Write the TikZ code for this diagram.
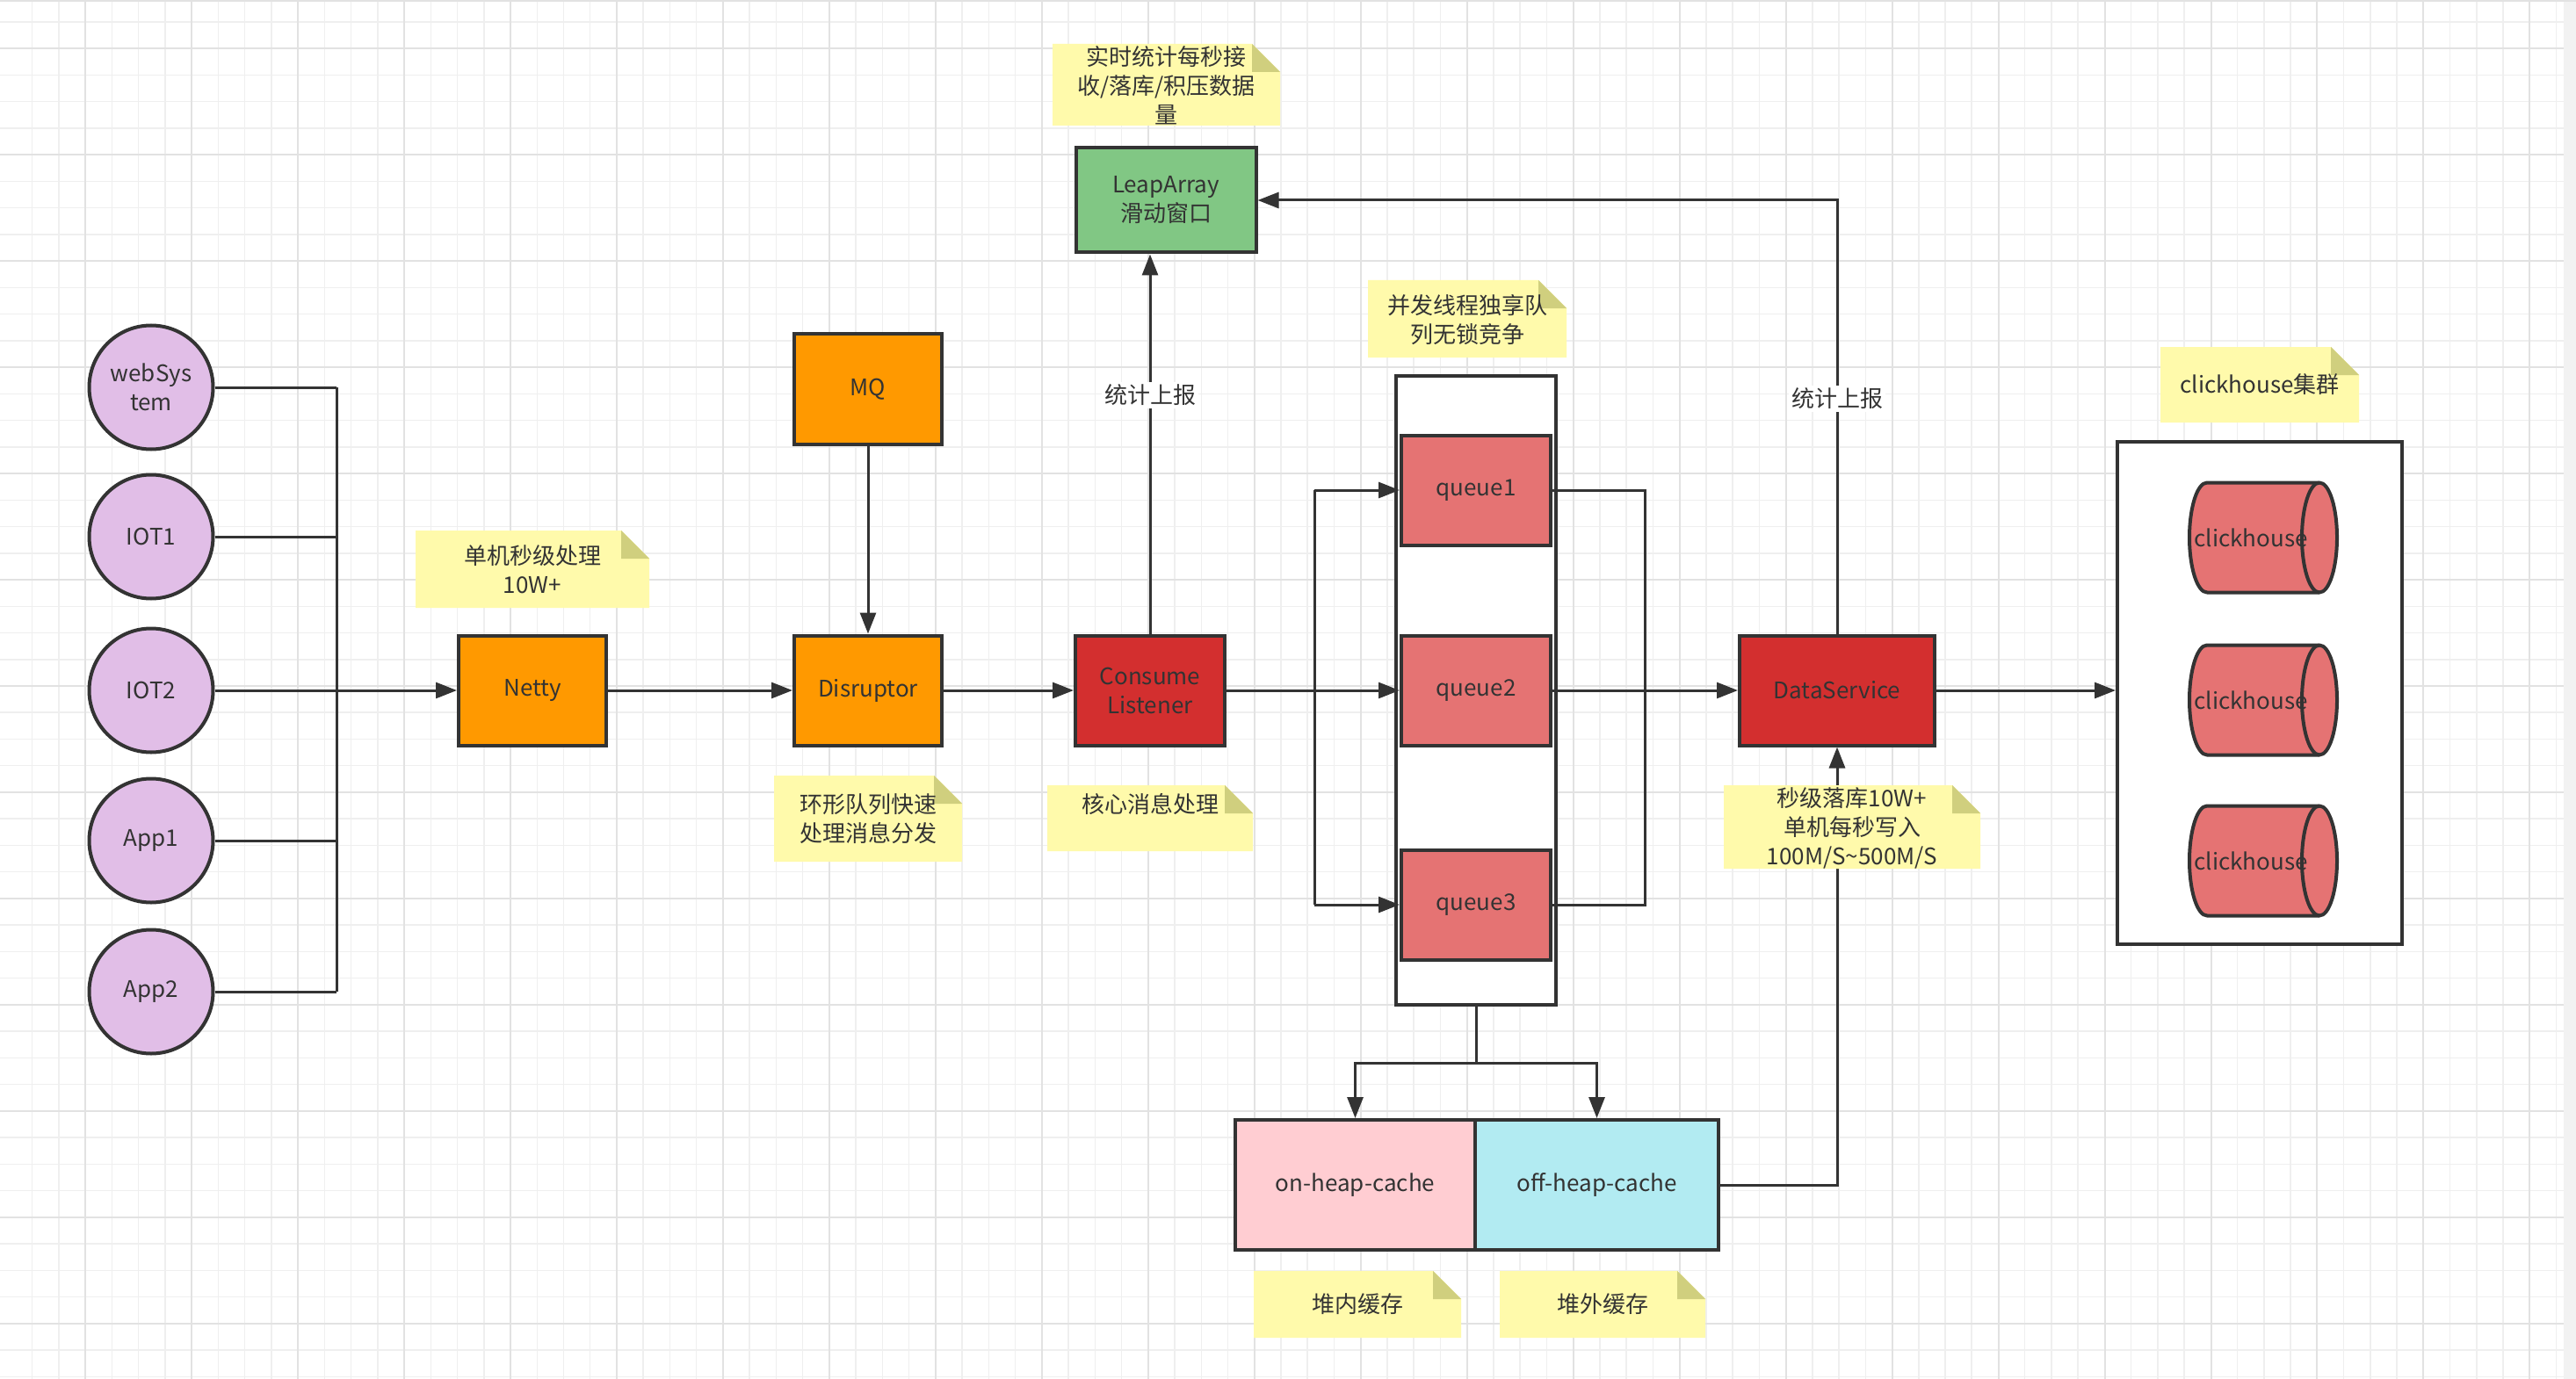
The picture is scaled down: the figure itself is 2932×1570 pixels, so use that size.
\documentclass[tikz,border=0pt]{standalone}
\usepackage{fontspec}
\setmainfont{Noto Sans CJK SC}
\usetikzlibrary{arrows.meta,shapes.geometric}
\definecolor{lc}{HTML}{333333}
\definecolor{txt}{HTML}{333333}
\definecolor{purp}{HTML}{E1BEE7}
\definecolor{orng}{HTML}{FF9900}
\definecolor{redbox}{HTML}{D32F2F}
\definecolor{qred}{HTML}{E57373}
\definecolor{grn}{HTML}{81C784}
\definecolor{pinkc}{HTML}{FFCDD2}
\definecolor{cyanc}{HTML}{B2EBF2}
\definecolor{notef}{HTML}{FFFAAB}
\definecolor{notefold}{HTML}{D0CF7E}
\definecolor{gminor}{HTML}{EFEFEF}
\definecolor{gmajor}{HTML}{E2E2E2}
\definecolor{sbar}{HTML}{F2F2F2}
\newcommand{\stickynote}[7]{%
  \fill[notef] (#2,#3) -- ({#4-32},#3) -- (#4,{#3+32}) -- (#4,#5) -- (#2,#5) -- cycle;
  \fill[notefold] ({#4-32},#3) -- ({#4-32},{#3+32}) -- (#4,{#3+32}) -- cycle;
  \node[notetext] (#1) at ({(#2+#4)/2},#6) {#7};}
% horizontal cylinder: name, cx, cy
\newcommand{\hcyl}[3]{%
  \draw[cylline] ({#2-64},{#3-62.5}) -- ({#2+64},{#3-62.5})
     arc[start angle=90, end angle=-90, x radius=20pt, y radius=62.5pt]
     -- ({#2-64},{#3+62.5})
     arc[start angle=270, end angle=90, x radius=20pt, y radius=62.5pt] -- cycle;
  \draw[cylline, fill=none] ({#2+64},{#3-62.5})
     arc[start angle=90, end angle=270, x radius=20pt, y radius=62.5pt];
  \node[base, inner sep=0pt] (#1) at ({#2-14},#3) {clickhouse};}
\begin{document}
\begin{tikzpicture}[x=1pt,y=-1pt,
  base/.style={font=\fontsize{26}{33}\selectfont, text=txt, align=center},
  notetext/.style={base, inner sep=0pt},
  conn/.style={draw=lc, line width=3pt},
  arr/.style={conn, -{Triangle[length=24pt,width=18pt]}},
  box/.style={base, draw=lc, line width=4pt, inner sep=0pt, rectangle},
  src/.style={base, draw=lc, line width=4pt, fill=purp, circle, minimum size=141pt, inner sep=0pt},
  stat/.style={base, fill=white, inner sep=3pt},
  cylline/.style={draw=lc, line width=4pt, fill=qred, line join=round}
]
\useasboundingbox (0,0) rectangle (2932,1570);
\fill[white] (0,0) rectangle (2932,1570);
% grid
\foreach \i in {0,...,96} {\draw[gminor, line width=1.5pt] ({36.7+30.24*\i},0) -- ({36.7+30.24*\i},1570);}
\foreach \i in {0,...,51} {\draw[gminor, line width=1.5pt] (0,{25+30.24*\i}) -- (2932,{25+30.24*\i});}
\foreach \i in {0,...,23} {\draw[gmajor, line width=2pt] ({97.3+120.96*\i},0) -- ({97.3+120.96*\i},1570);}
\foreach \i in {0,...,12} {\draw[gmajor, line width=2pt] (0,{55+120.96*\i}) -- (2932,{55+120.96*\i});}
\fill[sbar] (2918,0) rectangle (2932,1570);
\draw[gmajor, line width=2pt] (0,1) -- (2932,1);

% sources
\node[src] (web) at (172,441) {webSys\\tem};
\node[src] (iot1) at (172,611) {IOT1};
\node[src] (iot2) at (172,786) {IOT2};
\node[src] (app1) at (172,957) {App1};
\node[src] (app2) at (172,1129) {App2};
\coordinate (busT) at (383,441);
\coordinate (busB) at (383,1129);

% main boxes
\node[box, fill=orng, minimum width=168pt, minimum height=125pt] (netty) at (606,786) {Netty};
\node[box, fill=orng, minimum width=168pt, minimum height=126pt] (mq) at (988,443) {MQ};
\node[box, fill=orng, minimum width=168pt, minimum height=125pt] (disr) at (988,786) {Disruptor};
\node[box, fill=redbox, minimum width=170pt, minimum height=125pt] (cons) at (1309,786) {Consume\\Listener};
\node[box, fill=grn, minimum width=205pt, minimum height=119pt] (leap) at (1327,228) {LeapArray\\滑动窗口};
\node[box, fill=white, minimum width=182pt, minimum height=716pt] (qbox) at (1680,786) {};
\node[box, fill=qred, minimum width=170pt, minimum height=125pt] (q1) at (1680,558) {queue1};
\node[box, fill=qred, minimum width=170pt, minimum height=125pt] (q2) at (1680,786) {queue2};
\node[box, fill=qred, minimum width=170pt, minimum height=125pt] (q3) at (1680,1030) {queue3};
\node[box, fill=redbox, minimum width=222pt, minimum height=125pt] (ds) at (2091,786) {DataService};
\node[box, fill=white, minimum width=324pt, minimum height=572pt] (cluster) at (2572,789) {};
\hcyl{ch1}{2576}{612}
\hcyl{ch2}{2576}{797}
\hcyl{ch3}{2576}{980}
\node[box, fill=pinkc, minimum width=273pt, minimum height=148pt] (onheap) at (1542.5,1349) {on-heap-cache};
\node[box, fill=cyanc, minimum width=277pt, minimum height=148pt] (offheap) at (1817.5,1349) {off-heap-cache};

\coordinate (qsplit) at (1496,786);
\coordinate (qjoin) at (1872,786);
\coordinate (csplit) at (1680,1210);

% connectors: sources to Netty
\draw[conn] (web.east) -- (web.east -| busT);
\draw[conn] (iot1.east) -- (iot1.east -| busT);
\draw[conn] (app1.east) -- (app1.east -| busT);
\draw[conn] (app2.east) -- (app2.east -| busT);
\draw[conn] (busT) -- (busB);
\draw[arr] (iot2.east) -- (netty.west);
\draw[arr] (netty.east) -- (disr.west);
\draw[arr] (mq.south) -- (disr.north);
\draw[arr] (disr.east) -- (cons.west);
% stats
\draw[arr] (cons.north) -- (cons.north |- leap.south);
\node[stat] (stat1) at (1309,450) {统计上报};
\draw[arr] (ds.north) |- (leap.east);
\node[stat] (stat2) at (2091,454) {统计上报};
% queues
\draw[arr] (cons.east) -- (q2.west);
\draw[conn] (q1.west -| qsplit) -- (q3.west -| qsplit);
\draw[arr] (q1.west -| qsplit) -- (q1.west);
\draw[arr] (q3.west -| qsplit) -- (q3.west);
\draw[conn] (q1.east) -- (q1.east -| qjoin) -- (q3.east -| qjoin) -- (q3.east);
\draw[arr] (q2.east) -- (ds.west);
\draw[arr] (ds.east) -- (ds.east -| cluster.west);
% caches
\draw[conn] (qbox.south) -- (csplit);
\draw[arr] (csplit) -| (onheap.north);
\draw[arr] (csplit) -| (offheap.north);
\draw[arr] (offheap.east) -| (ds.south);

% notes
\stickynote{n1}{473}{604}{739}{692}{648}{单机秒级处理\\10W+}
\stickynote{n2}{881}{883}{1095}{981}{932}{环形队列快速\\处理消息分发}
\stickynote{n3}{1192}{894}{1426}{969}{915}{核心消息处理}
\stickynote{n4}{1198}{50}{1457}{143}{97}{实时统计每秒接\\收/落库/积压数据\\量}
\stickynote{n5}{1557}{319}{1783}{407}{364}{并发线程独享队\\列无锁竞争}
\stickynote{n6}{2459}{395}{2685}{481}{438}{clickhouse集群}
\stickynote{n7}{1962}{894}{2254}{989}{943}{秒级落库10W+\\单机每秒写入\\100M/S\textasciitilde500M/S}
\stickynote{n8}{1427}{1447}{1663}{1523}{1485}{堆内缓存}
\stickynote{n9}{1707}{1447}{1941}{1523}{1485}{堆外缓存}
\end{tikzpicture}
\end{document}
